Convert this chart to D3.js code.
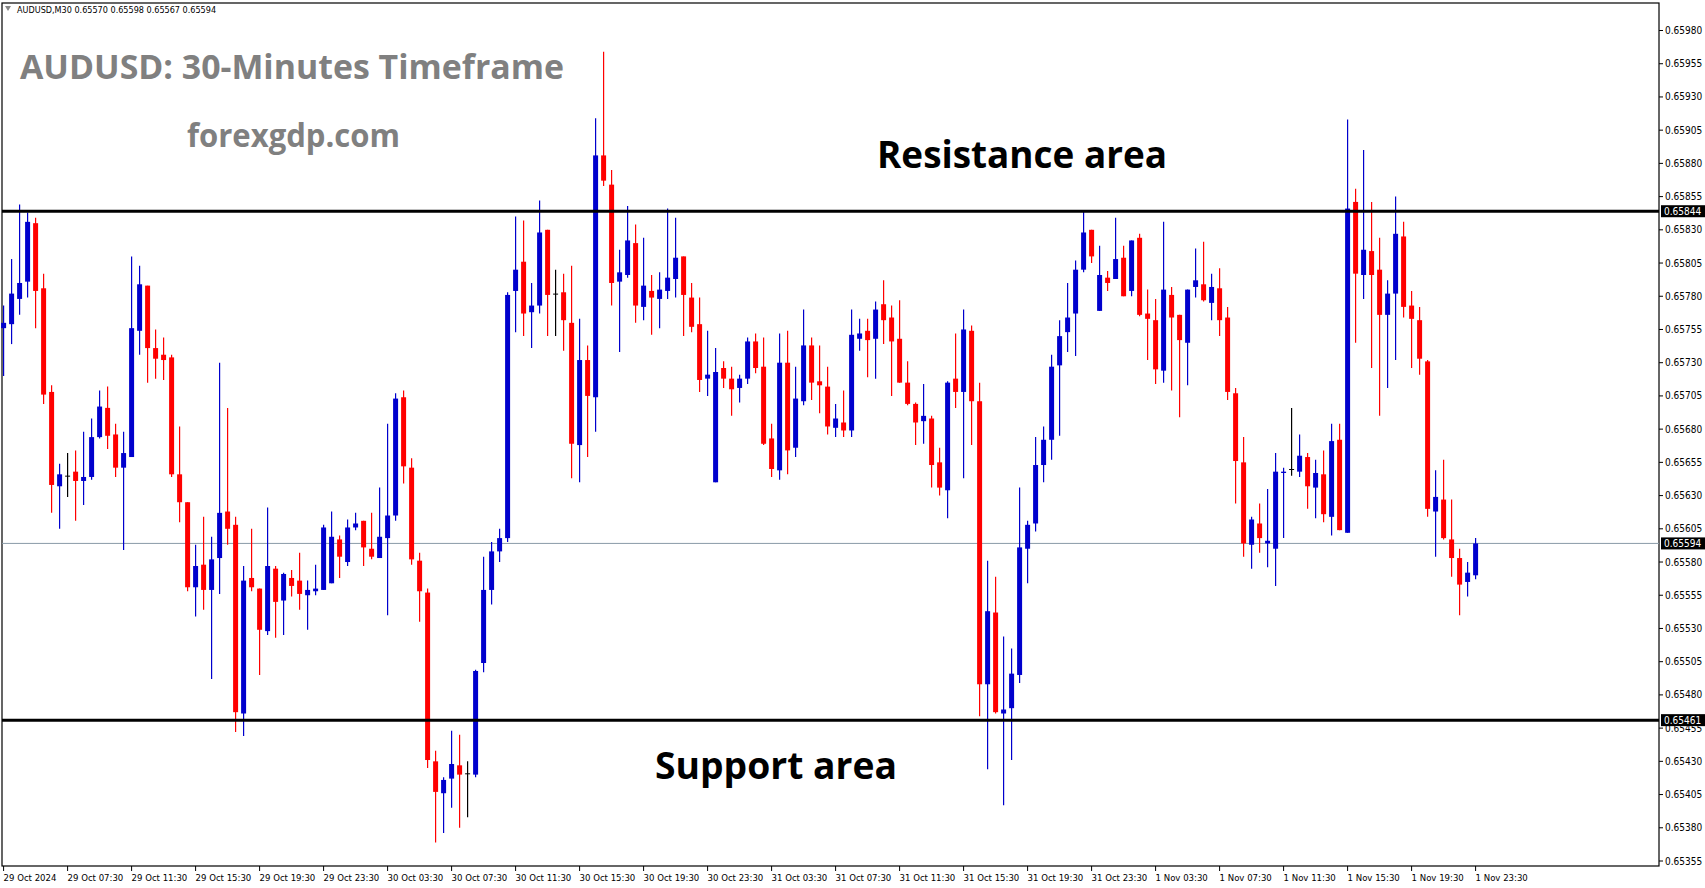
<!DOCTYPE html>
<html><head><meta charset="utf-8">
<script src="https://cdn.jsdelivr.net/npm/d3@7"></script>
<style>html,body{margin:0;padding:0;background:#fff;overflow:hidden}</style>
</head><body>
<svg id="c" width="1705" height="888"></svg>
<script>
// prices in points (1 point = 0.00001)
const open=[65756,65759,65778,65791,65835,65786,65708,65637,65645,65648,65641,65644,65674,65696,65676,65651,65659,65754,65788,65741,65736,65734,65646,65625,65561,65578,65559,65583,65618,65608,65466,65568,65560,65528,65575,65551,65568,65566,65555,65558,65559,65564,65597,65580,65606,65611,65590,65583,65598,65615,65704,65651,65581,65557,65430,65406,65417,65427,65421,65420,65504,65559,65588,65598,65784,65806,65768,65773,65830,65782,65783,65760,65668,65732,65704,65886,65864,65791,65796,65820,65772,65784,65778,65784,65793,65810,65779,65759,65718,65640,65726,65718,65711,65718,65746,65727,65673,65649,65730,65666,65701,65743,65716,65712,65681,65685,65679,65748,65754,65748,65774,65764,65748,65715,65699,65686,65688,65655,65634,65718,65708,65754,65701,65488,65542,65466,65470,65495,65590,65609,65653,65672,65728,65753,65767,65800,65830,65769,65794,65793,65809,65784,65824,65767,65762,65724,65781,65766,65745,65787,65789,65775,65786,65764,65707,65655,65593,65609,65594,65590,65647,65650,65648,65659,65636,65646,65614,65672,65602,65851,65796,65814,65800,65766,65782,65825,65773,65762,65731,65618,65627,65597,65583,65565,65570];
const high=[65773,65808,65849,65843,65839,65797,65713,65654,65662,65664,65678,65688,65709,65712,65684,65678,65810,65803,65788,65755,65749,65736,65682,65625,65593,65614,65599,65730,65696,65614,65577,65605,65560,65621,65577,65572,65574,65587,65566,65578,65608,65618,65600,65612,65617,65611,65617,65636,65684,65707,65709,65658,65587,65560,65438,65418,65453,65450,65430,65499,65584,65595,65605,65783,65840,65837,65790,65852,65830,65800,65797,65803,65763,65743,65914,65964,65875,65815,65848,65834,65824,65796,65798,65846,65839,65810,65790,65779,65754,65741,65731,65727,65721,65749,65752,65749,65684,65752,65754,65727,65770,65749,65743,65727,65699,65709,65770,65763,65763,65776,65792,65773,65777,65731,65700,65714,65690,65666,65716,65752,65770,65758,65715,65581,65569,65524,65515,65636,65611,65674,65682,65736,65762,65790,65807,65844,65830,65818,65799,65839,65818,65822,65827,65785,65778,65836,65787,65766,65785,65816,65821,65797,65801,65772,65711,65674,65614,65624,65635,65662,65651,65696,65676,65662,65657,65664,65684,65684,65913,65861,65890,65851,65824,65792,65855,65836,65784,65772,65732,65649,65657,65627,65590,65580,65598];
const low=[65720,65744,65766,65779,65756,65699,65617,65605,65629,65611,65623,65642,65673,65665,65644,65589,65659,65736,65715,65718,65717,65644,65610,65558,65539,65544,65492,65556,65593,65452,65449,65558,65495,65525,65523,65525,65554,65544,65529,65555,65559,65564,65568,65577,65604,65577,65582,65583,65540,65611,65639,65578,65535,65425,65369,65376,65395,65380,65388,65418,65497,65548,65580,65595,65753,65750,65741,65767,65750,65750,65739,65643,65640,65659,65678,65863,65773,65738,65794,65760,65762,65751,65756,65778,65779,65750,65753,65708,65705,65640,65711,65690,65700,65714,65722,65668,65644,65642,65646,65659,65698,65702,65692,65676,65674,65674,65674,65739,65719,65718,65744,65705,65715,65698,65668,65669,65636,65630,65613,65696,65643,65668,65464,65424,65466,65397,65431,65489,65564,65603,65640,65657,65675,65738,65735,65798,65805,65769,65784,65793,65780,65780,65765,65732,65714,65715,65709,65689,65713,65779,65776,65762,65750,65702,65624,65584,65575,65587,65576,65562,65598,65645,65644,65620,65613,65610,65600,65604,65602,65745,65778,65726,65690,65711,65732,65764,65726,65721,65614,65584,65597,65569,65540,65554,65567];
const close=[65760,65782,65790,65836,65784,65706,65638,65646,65645,65641,65644,65674,65697,65675,65651,65662,65756,65789,65741,65733,65732,65646,65625,65561,65577,65559,65582,65617,65605,65467,65566,65561,65529,65577,65550,65571,65562,65556,65559,65560,65606,65599,65584,65606,65609,65591,65584,65599,65615,65703,65652,65582,65558,65431,65407,65416,65428,65420,65421,65498,65559,65588,65598,65781,65800,65767,65773,65828,65781,65782,65762,65669,65732,65705,65886,65867,65790,65798,65822,65773,65788,65779,65785,65794,65809,65781,65757,65717,65721,65723,65718,65710,65718,65746,65726,65669,65650,65730,65664,65703,65743,65715,65713,65682,65688,65679,65751,65752,65747,65770,65762,65746,65715,65699,65685,65690,65653,65636,65715,65708,65755,65701,65488,65543,65467,65469,65496,65591,65608,65653,65672,65727,65750,65764,65800,65828,65810,65796,65790,65808,65780,65822,65766,65763,65725,65785,65764,65747,65785,65792,65777,65787,65762,65708,65656,65594,65612,65598,65596,65648,65648,65650,65660,65637,65647,65616,65671,65604,65846,65797,65815,65796,65766,65782,65827,65772,65763,65733,65620,65629,65598,65583,65563,65572,65594];
const priceTicks=[0.65980,0.65955,0.65930,0.65905,0.65880,0.65855,0.65830,0.65805,0.65780,0.65755,0.65730,0.65705,0.65680,0.65655,0.65630,0.65605,0.65580,0.65555,0.65530,0.65505,0.65480,0.65455,0.65430,0.65405,0.65380,0.65355];
const timeLabels=["29 Oct 2024","29 Oct 07:30","29 Oct 11:30","29 Oct 15:30","29 Oct 19:30","29 Oct 23:30","30 Oct 03:30","30 Oct 07:30","30 Oct 11:30","30 Oct 15:30","30 Oct 19:30","30 Oct 23:30","31 Oct 03:30","31 Oct 07:30","31 Oct 11:30","31 Oct 15:30","31 Oct 19:30","31 Oct 23:30","1 Nov 03:30","1 Nov 07:30","1 Nov 11:30","1 Nov 15:30","1 Nov 19:30","1 Nov 23:30"];
const resistance=0.65844, support=0.65461, current=0.65594;

const svg=d3.select("#c");
const L=2,R=1659,T=3,B=866;
const x=d3.scaleLinear().domain([0,184]).range([3.6,1475.6]);
const y=d3.scaleLinear().domain([0.65355,0.65980]).range([861,30.5]);
const P=v=>v/1e5;
const data=close.map((c,i)=>({i,o:P(open[i]),h:P(high[i]),l:P(low[i]),c:P(c)}));
const col=d=>d.c>d.o?"#0000CD":(d.c<d.o?"#FF0000":"#000");
const F="Tahoma, 'DejaVu Sans Condensed', 'DejaVu Sans', sans-serif";

svg.append("rect").attr("x",L).attr("y",T).attr("width",R-L).attr("height",B-T).attr("fill","none").attr("stroke","#000").attr("stroke-width",1.2);
svg.append("line").attr("x1",L).attr("x2",R).attr("y1",y(current)).attr("y2",y(current)).attr("stroke","#8a9aa8").attr("stroke-width",1);

const g=svg.append("g");
g.selectAll("line.w").data(data).join("line").attr("class","w")
 .attr("x1",d=>x(d.i)).attr("x2",d=>x(d.i)).attr("y1",d=>y(d.h)).attr("y2",d=>y(d.l))
 .attr("stroke",col).attr("stroke-width",1.2);
g.selectAll("rect.b").data(data).join("rect").attr("class","b")
 .attr("x",d=>x(d.i)-2.5).attr("width",5)
 .attr("y",d=>y(Math.max(d.o,d.c))).attr("height",d=>Math.max(1,Math.abs(y(d.o)-y(d.c))))
 .attr("fill",col);

[resistance,support].forEach(v=>svg.append("line").attr("x1",L).attr("x2",R).attr("y1",y(v)).attr("y2",y(v)).attr("stroke","#000").attr("stroke-width",3));

const ax=svg.append("g").attr("transform",`translate(${R},0)`);
priceTicks.forEach(v=>{
  ax.append("line").attr("x1",0).attr("x2",4).attr("y1",y(v)).attr("y2",y(v)).attr("stroke","#000");
  ax.append("text").attr("x",6).attr("y",y(v)).attr("dy","0.35em").attr("font-family",F).attr("font-size",10).attr("fill","#000").text(v.toFixed(5));
});
[resistance,current,support].forEach(v=>{
  ax.append("rect").attr("x",2).attr("y",y(v)-6).attr("width",44).attr("height",12).attr("fill","#000");
  ax.append("text").attr("x",5).attr("y",y(v)).attr("dy","0.35em").attr("font-family",F).attr("font-size",10).attr("fill","#fff").text(v.toFixed(5));
});

timeLabels.forEach((t,k)=>{
  const xx=x(k*8);
  svg.append("line").attr("x1",xx).attr("x2",xx).attr("y1",B).attr("y2",B+5).attr("stroke","#000");
  svg.append("text").attr("x",xx).attr("y",B+15).attr("font-family",F).attr("font-size",9.5).attr("fill","#000").text(t);
});

svg.append("path").attr("d","M5,6 L11,6 L8,11 Z").attr("fill","#888");
svg.append("text").attr("x",17).attr("y",13).attr("font-family",F).attr("font-size",9).attr("fill","#000").text("AUDUSD,M30  0.65570 0.65598 0.65567 0.65594");

const ann=(txt,x0,yc,w,size,fill)=>svg.append("text").attr("x",x0).attr("y",yc).attr("dy","0.35em").attr("font-family","'Open Sans', sans-serif").attr("font-weight","bold").attr("font-size",size).attr("fill",fill).attr("textLength",w).attr("lengthAdjust","spacingAndGlyphs").text(txt);
ann("AUDUSD: 30-Minutes Timeframe",20,67,544,34,"#808080");
ann("forexgdp.com",187,136,213,32,"#808080");
ann("Resistance area",877,155,290,37,"#000");
ann("Support area",655,766,242,37,"#000");
</script>
</body></html>
